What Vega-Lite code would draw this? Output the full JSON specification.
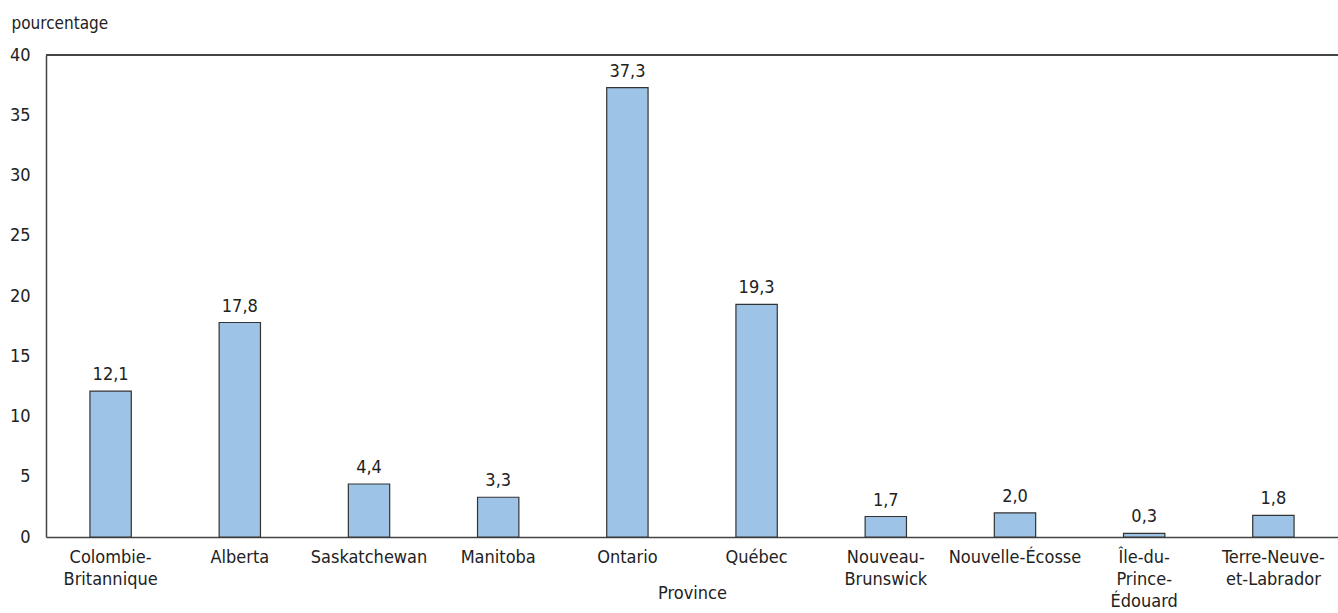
{
  "$schema": "https://vega.github.io/schema/vega-lite/v6.json",
  "width": 1292,
  "height": 482,
  "autosize": {"type": "none"},
  "padding": {"left": 46, "top": 55, "right": 0, "bottom": 76},
  "config": {
    "font": "DejaVu Sans Condensed",
    "view": {"stroke": null},
    "locale": {"number": {"decimal": ",", "thousands": " ", "grouping": [3], "currency": ["", " $"]}}
  },
  "data": {
    "values": [
      {"province": "Colombie-Britannique", "pourcentage": 12.1},
      {"province": "Alberta", "pourcentage": 17.8},
      {"province": "Saskatchewan", "pourcentage": 4.4},
      {"province": "Manitoba", "pourcentage": 3.3},
      {"province": "Ontario", "pourcentage": 37.3},
      {"province": "Québec", "pourcentage": 19.3},
      {"province": "Nouveau-Brunswick", "pourcentage": 1.7},
      {"province": "Nouvelle-Écosse", "pourcentage": 2.0},
      {"province": "Île-du-Prince-Édouard", "pourcentage": 0.3},
      {"province": "Terre-Neuve-et-Labrador", "pourcentage": 1.8}
    ]
  },
  "encoding": {
    "x": {
      "field": "province",
      "type": "nominal",
      "sort": null,
      "scale": {"paddingInner": 0.68, "paddingOuter": 0.34},
      "axis": {
        "title": "Province",
        "titleFontSize": 18,
        "titleFontWeight": "normal",
        "titleColor": "#222222",
        "titleBaseline": "alphabetic",
        "titleY": 61,
        "labelAngle": 0,
        "labelFontSize": 18,
        "labelColor": "#222222",
        "labelPadding": 11,
        "labelLineHeight": 22,
        "labelExpr": "datum.value == 'Colombie-Britannique' ? ['Colombie-', 'Britannique'] : datum.value == 'Nouveau-Brunswick' ? ['Nouveau-', 'Brunswick'] : datum.value == 'Île-du-Prince-Édouard' ? ['Île-du-', 'Prince-', 'Édouard'] : datum.value == 'Terre-Neuve-et-Labrador' ? ['Terre-Neuve-', 'et-Labrador'] : datum.value",
        "ticks": false,
        "domainColor": "#444444",
        "domainWidth": 1.5
      }
    },
    "y": {
      "field": "pourcentage",
      "type": "quantitative",
      "scale": {"domain": [0, 40]},
      "axis": {
        "title": "pourcentage",
        "titleAngle": 0,
        "titleAlign": "left",
        "titleBaseline": "alphabetic",
        "titleX": -35,
        "titleY": -27,
        "titleFontSize": 17,
        "titleFontWeight": "normal",
        "titleColor": "#222222",
        "labelFontSize": 18,
        "labelColor": "#222222",
        "labelPadding": 16,
        "values": [0, 5, 10, 15, 20, 25, 30, 35, 40],
        "ticks": false,
        "grid": false,
        "domainColor": "#444444",
        "domainWidth": 1.5
      }
    }
  },
  "layer": [
    {
      "mark": {"type": "bar", "fill": "#9dc3e6", "stroke": "#333333", "strokeWidth": 1.2}
    },
    {
      "mark": {"type": "text", "baseline": "alphabetic", "dy": -11, "fontSize": 18, "color": "#222222"},
      "encoding": {"text": {"field": "pourcentage", "type": "quantitative", "format": ".1f"}}
    },
    {
      "mark": {"type": "rule", "color": "#444444", "strokeWidth": 1.5},
      "encoding": {"y": {"datum": 40}, "x": null}
    }
  ]
}
